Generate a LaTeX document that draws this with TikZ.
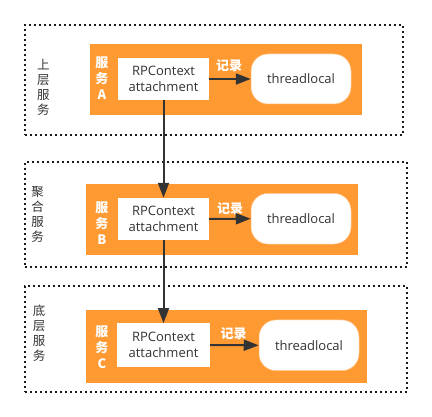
\documentclass[tikz,border=0pt]{standalone}
\usepackage{fontspec}
\setmainfont{Open Sans}
\newfontfamily\cjk{Noto Sans CJK SC}
\usetikzlibrary{arrows.meta}
\definecolor{orng}{RGB}{255,154,51}
\definecolor{txt}{RGB}{51,51,51}
\definecolor{ln}{RGB}{51,51,51}
\tikzset{
  layerbox/.style={draw=black!90, line width=2pt, dash pattern=on 2pt off 3pt, inner sep=0pt},
  orangebox/.style={fill=orng, draw=none, inner sep=0pt},
  ctxbox/.style={fill=white, draw=none, inner sep=0pt, align=center, text=txt,
    font=\fontsize{13}{15.5}\selectfont},
  tlbox/.style={fill=white, draw=orng!60, line width=0.5pt, rounded corners=17pt, inner sep=0pt,
    text=txt, font=\fontsize{13}{15.5}\selectfont},
  sidelabel/.style={align=center, text=txt, inner sep=0pt, font=\cjk\fontsize{12.5}{15}\selectfont},
  svclabel/.style={align=center, text=white, inner sep=0pt, font=\cjk\bfseries\fontsize{13}{16}\selectfont},
  reclabel/.style={text=white, inner sep=0pt, font=\cjk\bfseries\fontsize{13}{15}\selectfont},
  conn/.style={draw=ln, line width=2pt, -{Triangle[length=15pt,width=11pt]}},
}
\begin{document}
\begin{tikzpicture}[x=1pt,y=-1pt]
\useasboundingbox (0,0) rectangle (432,417);
% layer A
\node[layerbox, minimum width=378, minimum height=110] (la) at (214,80) {};
\node[orangebox, minimum width=272, minimum height=71] (oa) at (226,79.5) {};
\node[ctxbox, minimum width=91, minimum height=42] (wa) at (163.5,79) {RPContext\\attachment};
\node[tlbox, minimum width=100, minimum height=50] (ta) at (301,79) {threadlocal};
\node[sidelabel] (sa) at (43.5,87) {上\\层\\服\\务};
\node[svclabel] (va) at (102,78.5) {服\\务\\A};
\node[reclabel] (ra) at (229,65.5) {记录};
% layer B
\node[layerbox, minimum width=382, minimum height=105] (lb) at (216,214.5) {};
\node[orangebox, minimum width=272, minimum height=71] (ob) at (222,219.5) {};
\node[ctxbox, minimum width=91, minimum height=42] (wb) at (163.5,219) {RPContext\\attachment};
\node[tlbox, minimum width=100, minimum height=50.7] (tb) at (301,218.7) {threadlocal};
\node[sidelabel] (sb) at (37.5,215) {聚\\合\\服\\务};
\node[svclabel] (vb) at (102,223) {服\\务\\B};
\node[reclabel] (rb) at (230,209) {记录};
% layer C
\node[layerbox, minimum width=382, minimum height=106] (lc) at (216,339) {};
\node[orangebox, minimum width=281, minimum height=72.7] (oc) at (226.5,346.3) {};
\node[ctxbox, minimum width=93, minimum height=43.4] (wc) at (163.5,345) {RPContext\\attachment};
\node[tlbox, minimum width=100, minimum height=50.7] (tc) at (309,345.3) {threadlocal};
\node[sidelabel] (sc) at (39,333) {底\\层\\服\\务};
\node[svclabel] (vc) at (102,347) {服\\务\\C};
\node[reclabel] (rc) at (233.5,333.5) {记录};
% connectors
\draw[conn] (wa.east) -- (ta.west);
\draw[conn] (wb.east) -- (tb.west);
\draw[conn] (wc.east) -- (tc.west);
\draw[conn] (wa.south) -- (wb.north);
\draw[conn] (wb.south) -- (wc.north);
\end{tikzpicture}
\end{document}
